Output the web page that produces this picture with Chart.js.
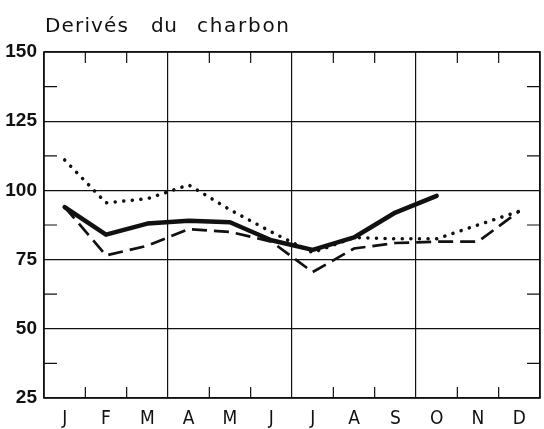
<!DOCTYPE html>
<html lang="fr">
<head>
<meta charset="UTF-8">
<title>Derivés du charbon</title>
<script src="https://cdn.jsdelivr.net/npm/chart.js"></script>
<style>
  html, body { margin: 0; padding: 0; background: #fff; }
  #wrap { width: 544px; height: 429px; }
</style>
</head>
<body>
<div id="wrap"><canvas id="chart" width="544" height="429"></canvas></div>
<script>
// mois
const months = ['J', 'F', 'M', 'A', 'M', 'J', 'J', 'A', 'S', 'O', 'N', 'D'];
// trait plein (s'arrête en octobre)
const solidSeries = [94, 84, 88, 89, 88.5, 82, 78.5, 83, 92, 98, null, null];
// pointillé
const dottedSeries = [111, 95.5, 97, 102, 93, 85, 77.5, 83, 82.5, 82.5, 87.5, 92.5];
// tirets
const dashedSeries = [94, 76.5, 80, 86, 85, 81.5, 70.5, 79, 81, 81.5, 81.5, 92.5];
const yTicks = [25, 50, 75, 100, 125, 150];
const titleWords = ['Derivés', 'du', 'charbon'];

// titre, cadre et petites graduations
const decor = {
  id: 'decor',
  afterDraw(chart) {
    const { ctx, chartArea: a, scales: { x, y } } = chart;
    ctx.save();
    ctx.strokeStyle = '#111';
    ctx.lineWidth = 1.6;
    ctx.strokeRect(a.left, a.top, a.right - a.left, a.bottom - a.top);

    ctx.lineWidth = 1.2;
    ctx.beginPath();
    for (let i = 1; i < months.length; i++) {
      if (i % 3 === 0) continue;
      const px = x.getPixelForValue(i - 0.5);
      ctx.moveTo(px, a.top); ctx.lineTo(px, a.top + 11);
      ctx.moveTo(px, a.bottom); ctx.lineTo(px, a.bottom - 11);
    }
    for (let v = 37.5; v < 150; v += 25) {
      const py = y.getPixelForValue(v);
      ctx.moveTo(a.left, py); ctx.lineTo(a.left + 13, py);
      ctx.moveTo(a.right, py); ctx.lineTo(a.right - 13, py);
    }
    ctx.stroke();

    // titre : chaque mot calé sur sa largeur
    ctx.fillStyle = '#111';
    ctx.font = '20px "DejaVu Sans"';
    ctx.textBaseline = 'alphabetic';
    const spans = [[45, 128], [151, 177], [197, 289]];
    titleWords.forEach((word, i) => {
      ctx.letterSpacing = '0px';
      const w = ctx.measureText(word).width;
      const target = spans[i][1] - spans[i][0];
      const sp = Math.max(0.5, (target - w) / (word.length - 1));
      ctx.letterSpacing = sp + 'px';
      ctx.fillText(word, spans[i][0], 32);
    });
    ctx.restore();
  }
};

new Chart(document.getElementById('chart'), {
  type: 'line',
  data: {
    labels: months,
    datasets: [
      {
        data: solidSeries,
        borderColor: '#111',
        borderWidth: 4.5,
        pointRadius: 0,
        tension: 0,
        spanGaps: false,
        borderJoinStyle: 'round',
        borderCapStyle: 'round'
      },
      {
        data: dottedSeries,
        borderColor: '#111',
        borderWidth: 3.5,
        borderDash: [0.1, 8.5],
        borderCapStyle: 'round',
        pointRadius: 0,
        tension: 0
      },
      {
        data: dashedSeries,
        borderColor: '#111',
        borderWidth: 2.7,
        borderDash: [15, 7],
        pointRadius: 0,
        tension: 0
      }
    ]
  },
  options: {
    responsive: false,
    animation: false,
    layout: { padding: { top: 52, right: 4, left: 0, bottom: 0 } },
    plugins: { legend: { display: false }, tooltip: { enabled: false } },
    scales: {
      x: {
        offset: true,
        grid: {
          offset: true,
          drawTicks: false,
          lineWidth: 1.2,
          color: c => (c.index === undefined || c.index % 3 === 0) ? '#111' : 'rgba(0,0,0,0)'
        },
        border: { display: false },
        ticks: {
          padding: 10,
          color: '#111',
          font: { family: '"DejaVu Sans Condensed", "DejaVu Sans"', size: 19 }
        },
        afterFit: s => { s.height = 31; }
      },
      y: {
        min: 25,
        max: 150,
        afterBuildTicks: s => { s.ticks = yTicks.map(v => ({ value: v })); },
        grid: { drawTicks: false, color: '#111', lineWidth: 1.2 },
        border: { display: false },
        ticks: {
          padding: 7,
          color: '#111',
          font: { family: '"Liberation Sans", Arial', size: 19, weight: 'bold' }
        },
        afterFit: s => { s.width = 44; }
      }
    }
  },
  plugins: [decor]
});
</script>
</body>
</html>
